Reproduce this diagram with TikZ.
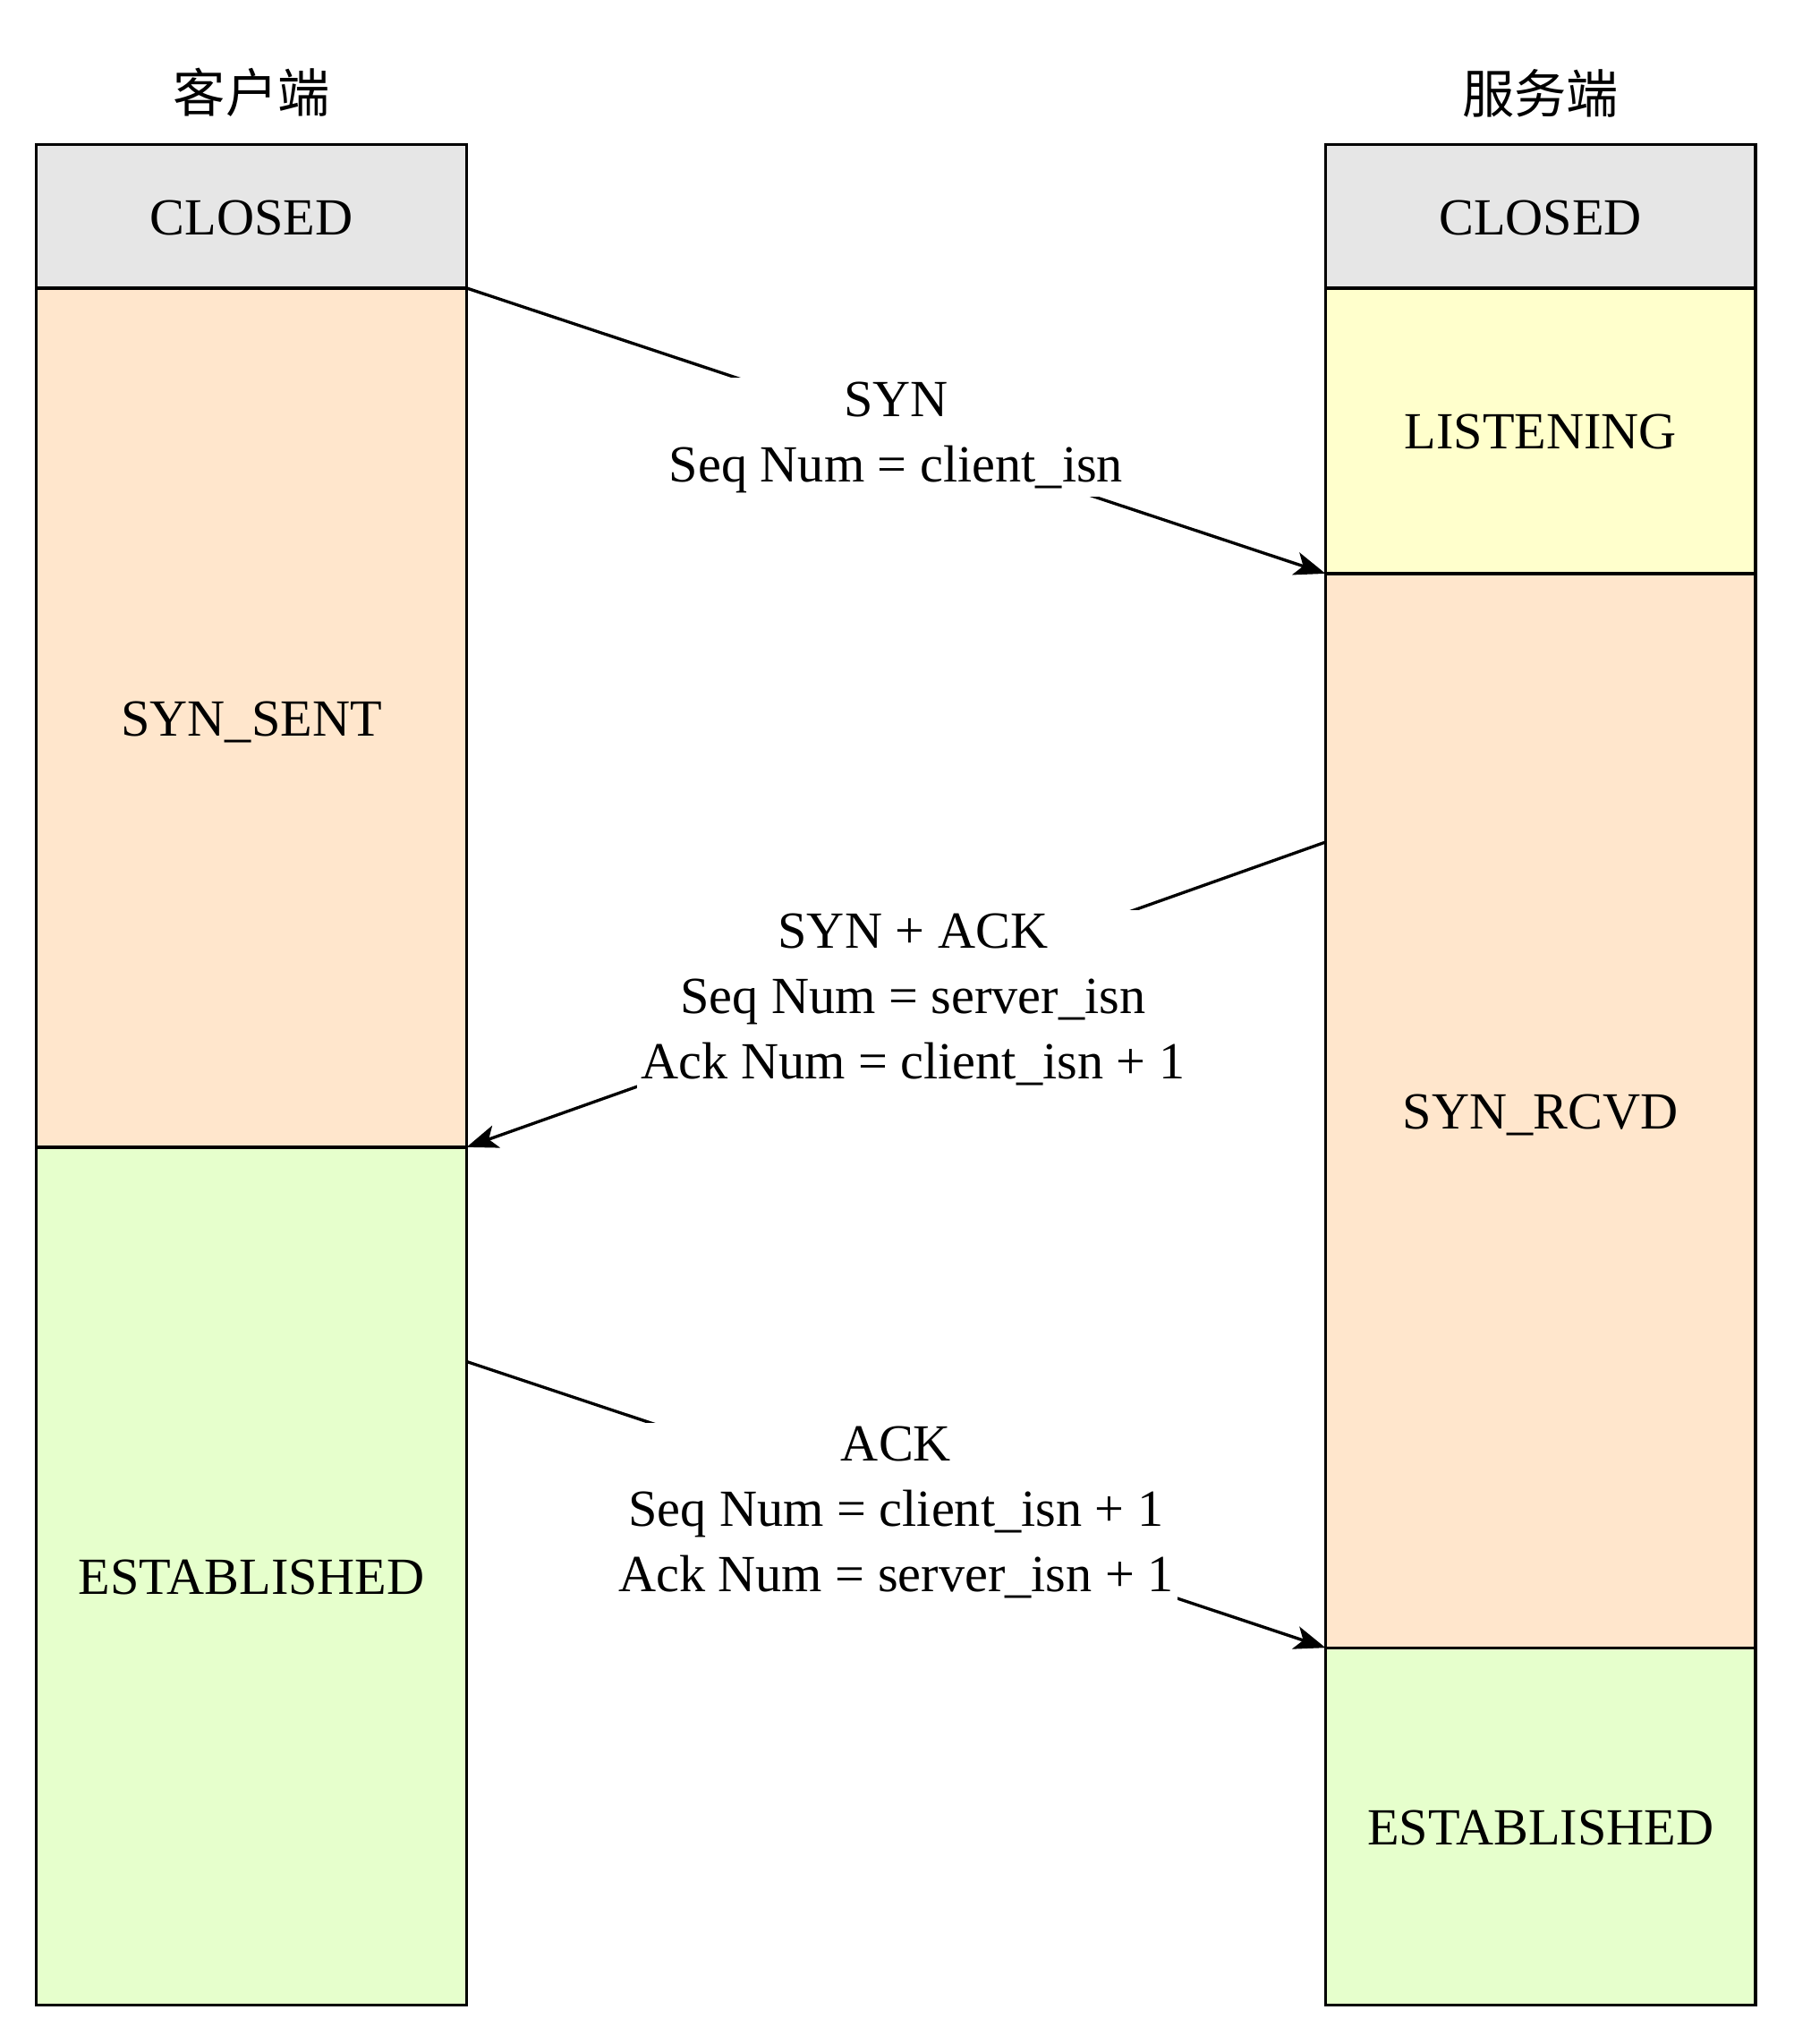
\documentclass[tikz,border=0pt]{standalone}
\usepackage{fontspec}
\setmainfont{Liberation Serif}
\newfontfamily\cjkfont{Noto Sans CJK SC}
\usepackage{xcolor}
\usetikzlibrary{arrows.meta, positioning, calc}

\definecolor{closedgray}{HTML}{E6E6E6}
\definecolor{synorange}{HTML}{FFE6CC}
\definecolor{listenyellow}{HTML}{FFFFCC}
\definecolor{estgreen}{HTML}{E6FFCC}

\begin{document}
\begin{tikzpicture}[
    x=1pt, y=-1pt,
    node distance=0pt,
    state/.style={rectangle, draw, line width=2.3pt, minimum width=330pt, inner sep=0pt, outer sep=0pt, text height=28pt, text depth=0pt, font=\fontsize{40}{50}\selectfont},
    side/.style={inner sep=0pt, font=\cjkfont\fontsize{40}{50}\selectfont},
    msg/.style={fill=white, align=center, inner sep=3pt, execute at begin node={\rule{0pt}{47pt}}, font=\fontsize{40}{50}\selectfont},
    flow/.style={line width=2.3pt, -{Stealth[length=24pt, width=18pt, inset=6pt]}}
]
    \useasboundingbox (0,0) rectangle (1376,1568);

    % Client states
    \node[state, fill=closedgray, minimum height=110pt] (cclosed) at (193,166) {CLOSED};
    \node[state, fill=synorange, minimum height=659pt, below=of cclosed] (csent) {SYN\_SENT};
    \node[state, fill=estgreen, minimum height=658pt, below=of csent] (cest) {ESTABLISHED};

    % Server states
    \node[state, fill=closedgray, minimum height=110pt] (sclosed) at (1182,166) {CLOSED};
    \node[state, fill=listenyellow, minimum height=219pt, below=of sclosed] (slisten) {LISTENING};
    \node[state, fill=synorange, minimum height=824pt, below=of slisten] (srcvd) {SYN\_RCVD};
    \node[state, fill=estgreen, minimum height=274pt, below=of srcvd] (sest) {ESTABLISHED};

    % Titles
    \node[side, above=21pt of cclosed] (client) {客户端};
    \node[side, above=21pt of sclosed] (server) {服务端};

    % Handshake
    \coordinate (rcvdout) at ($(srcvd.north west)!0.25!(srcvd.south west)$);
    \coordinate (estout) at ($(cest.north east)!0.25!(cest.south east)$);
    \draw[flow] (csent.north east) -- node[msg, yshift=-5pt] {SYN\\Seq Num = client\_isn} (slisten.south west);
    \draw[flow] (rcvdout) -- node[msg, xshift=13pt, yshift=-4pt] {SYN + ACK\\Seq Num = server\_isn\\Ack Num = client\_isn + 1} (csent.south east);
    \draw[flow] (estout) -- node[msg, yshift=-6pt] {ACK\\Seq Num = client\_isn + 1\\Ack Num = server\_isn + 1} (srcvd.south west);
\end{tikzpicture}
\end{document}
